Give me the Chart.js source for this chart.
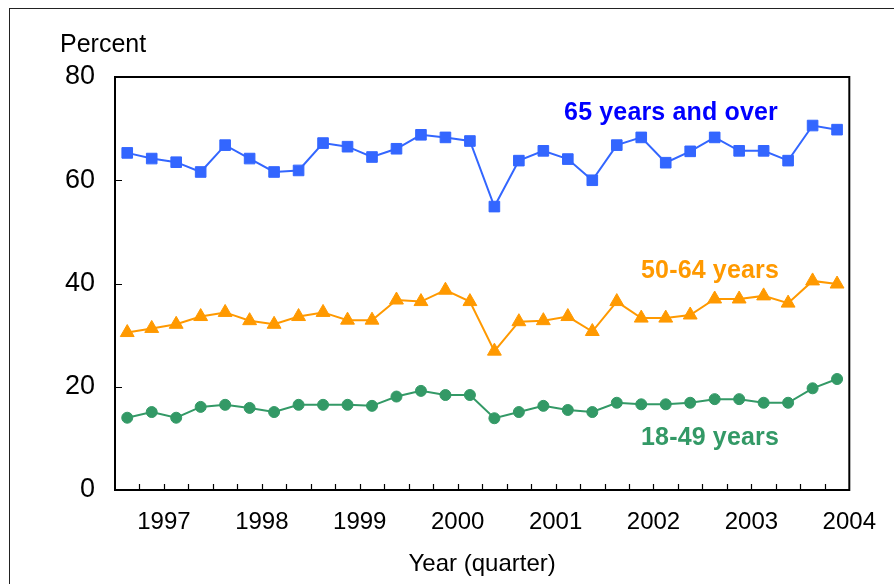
<!DOCTYPE html>
<html>
<head>
<meta charset="utf-8">
<script src="https://cdn.jsdelivr.net/npm/chart.js@4.4.1/dist/chart.umd.min.js"></script>
<style>
  html, body { margin: 0; padding: 0; background: #fff; }
  #wrap { position: relative; width: 894px; height: 584px; overflow: hidden; font-family: "Liberation Sans", Arial, sans-serif; }
  #frame { position: absolute; left: 9px; top: 8px; width: 1000px; height: 1000px; border-left: 1.5px solid #222; border-top: 1.5px solid #222; pointer-events: none; }
  canvas { position: absolute; left: 0; top: 0; }
  .lbl { position: absolute; transform: translate(-50%, -50%); line-height: 1; white-space: nowrap; font-weight: bold; font-size: 25px; letter-spacing: 0.15px; }
  #ytitle { position: absolute; left: 60px; top: 31px; font-size: 25px; line-height: 25px; color: #000; }
</style>
</head>
<body>
<div id="wrap">
  <canvas id="c" width="894" height="584"></canvas>
  <div id="frame"></div>
  <div id="ytitle">Percent</div>
  <div class="lbl" style="left:671px; top:111px; color:#0000ff;">65 years and over</div>
  <div class="lbl" style="left:710px; top:269px; color:#ff9900;">50-64 years</div>
  <div class="lbl" style="left:710px; top:436px; color:#339966;">18-49 years</div>
</div>
<script>
// Quarter index (30 quarters), year labels at year boundaries
const quarters = Array.from({length: 30}, (_, i) => 'Quarter ' + (i + 1));
const yearLabels = ['1997', '1998', '1999', '2000', '2001', '2002', '2003', '2004'];
const yTicks = [0, 20, 40, 60, 80];

const age65plus = [65.3, 64.2, 63.5, 61.6, 66.8, 64.2, 61.6, 61.9, 67.2, 66.5,
                   64.5, 66.1, 68.8, 68.3, 67.6, 54.9, 63.8, 65.7, 64.1, 60.0,
                   66.8, 68.3, 63.4, 65.6, 68.3, 65.7, 65.7, 63.8, 70.6, 69.8];
const age50to64 = [30.5, 31.3, 32.1, 33.6, 34.4, 32.8, 32.1, 33.6, 34.4, 32.9,
                   32.9, 36.8, 36.5, 38.7, 36.5, 26.9, 32.6, 32.8, 33.6, 30.7,
                   36.5, 33.3, 33.3, 33.9, 37.0, 37.0, 37.6, 36.2, 40.5, 39.9];
const age18to49 = [14.0, 15.1, 14.0, 16.1, 16.5, 15.9, 15.1, 16.5, 16.5, 16.5,
                   16.3, 18.1, 19.2, 18.4, 18.4, 13.9, 15.1, 16.3, 15.5, 15.1,
                   16.9, 16.6, 16.6, 16.9, 17.6, 17.6, 16.9, 16.9, 19.7, 21.5];

const toPts = arr => arr.map((v, i) => ({ x: i + 0.5, y: v, q: quarters[i] }));

const frameTicks = {
  id: 'frameTicks',
  beforeDatasetsDraw(chart) {
    const { ctx, chartArea: a, scales: { x, y } } = chart;
    ctx.save();
    ctx.strokeStyle = '#000';
    ctx.lineWidth = 1.2;
    ctx.beginPath();
    for (let v = 1; v < quarters.length; v++) {
      const px = Math.round(x.getPixelForValue(v)) + 0.5;
      ctx.moveTo(px, a.bottom);
      ctx.lineTo(px, a.bottom - 6);
    }
    yTicks.forEach(v => {
      if (v === yTicks[0] || v === yTicks[yTicks.length - 1]) return;
      const py = Math.round(y.getPixelForValue(v)) + 0.5;
      ctx.moveTo(a.left, py);
      ctx.lineTo(a.left + 7, py);
    });
    ctx.stroke();
    ctx.lineWidth = 2;
    ctx.strokeRect(a.left, a.top, a.right - a.left, a.bottom - a.top);
    ctx.restore();
  }
};

new Chart(document.getElementById('c'), {
  type: 'line',
  data: {
    datasets: [
      { label: '65 years and over', data: toPts(age65plus), borderColor: '#3366ff', backgroundColor: '#3366ff',
        borderWidth: 2, pointStyle: 'rect', pointRadius: 7.5, pointBorderWidth: 1, pointBorderColor: '#3366ff' },
      { label: '50-64 years', data: toPts(age50to64), borderColor: '#ff9900', backgroundColor: '#ff9900',
        borderWidth: 2, pointStyle: 'triangle', pointRadius: 8, pointBorderWidth: 1, pointBorderColor: '#ff9900' },
      { label: '18-49 years', data: toPts(age18to49), borderColor: '#339966', backgroundColor: '#339966',
        borderWidth: 2, pointStyle: 'circle', pointRadius: 5.5, pointBorderWidth: 1, pointBorderColor: '#339966' }
    ]
  },
  options: {
    responsive: false,
    animation: false,
    events: [],
    layout: { padding: { top: 77, right: 42, left: 0, bottom: 0 } },
    plugins: { legend: { display: false }, tooltip: { enabled: false } },
    scales: {
      x: {
        type: 'linear', min: 0, max: quarters.length,
        grid: { display: false, drawTicks: false },
        border: { display: false },
        afterFit: s => { s.height = 94; },
        afterBuildTicks: s => { s.ticks = Array.from({length: quarters.length + 1}, (_, i) => ({ value: i })); },
        ticks: {
          autoSkip: false, maxRotation: 0, padding: 18, color: '#000',
          font: { family: '"Liberation Sans", Arial, sans-serif', size: 24 },
          callback: v => ((v - 2) % 4 === 0 ? yearLabels[(v - 2) / 4] : '')
        },
        title: { display: true, text: 'Year (quarter)', color: '#000',
          font: { family: '"Liberation Sans", Arial, sans-serif', size: 24 }, padding: { top: 0, bottom: 5 } }
      },
      y: {
        min: 0, max: 80,
        grid: { display: false, drawTicks: false },
        border: { display: false },
        afterFit: s => { s.width = 115; },
        afterBuildTicks: s => { s.ticks = yTicks.map(v => ({ value: v })); },
        ticks: { padding: 20, color: '#000', font: { family: '"Liberation Sans", Arial, sans-serif', size: 27 } }
      }
    }
  },
  plugins: [frameTicks]
});
</script>
</body>
</html>
